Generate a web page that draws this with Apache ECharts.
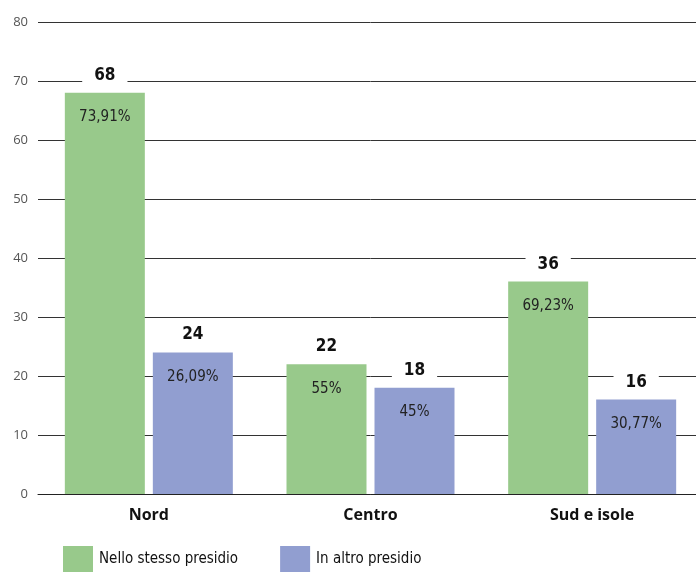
<!DOCTYPE html>
<html><head><meta charset="utf-8">
<script src="https://cdn.jsdelivr.net/npm/echarts@6/dist/echarts.min.js"></script>
<style>html,body{margin:0;padding:0;background:#fff;overflow:hidden}#c{width:703px;height:572px}</style>
</head><body><div id="c"></div>
<script>
const categories = ['Nord', 'Centro', 'Sud e isole'];
const seriesNames = ['Nello stesso presidio', 'In altro presidio'];
const stessoValues = [68, 22, 36];
const altroValues = [24, 18, 16];
const stessoPct = ['73,91%', '55%', '69,23%'];
const altroPct = ['26,09%', '45%', '30,77%'];
const yTicks = [0, 10, 20, 30, 40, 50, 60, 70, 80];

const F = '"DejaVu Sans Condensed", "Liberation Sans Narrow", sans-serif';
const green = '#98c98b', blue = '#919ed0';
const chart = echarts.init(document.getElementById('c'));
const topLabel = {
  show: true, position: 'top', distance: 7,
  fontFamily: F, fontWeight: 'bold', fontSize: 17, color: '#111',
  backgroundColor: '#fff', padding: [2, 12, 2, 12]
};
const pctLabel = (arr) => ({
  show: true, position: 'insideTop', distance: 17,
  fontFamily: F, fontSize: 15, color: '#222',
  formatter: p => arr[p.dataIndex]
});
chart.setOption({
  animation: false,
  grid: { left: 38, top: 22, right: 0, bottom: 78 },
  legend: {
    data: seriesNames, left: 63, top: 546, icon: 'rect', padding: 0,
    itemWidth: 30, itemHeight: 26, itemGap: 42,
    textStyle: { fontFamily: F, fontSize: 15, color: '#111', padding: [0, 0, 0, 1] }
  },
  xAxis: [
    { type: 'category', data: categories, axisTick: { show: false },
      axisLine: { lineStyle: { color: '#222' } },
      axisLabel: { fontFamily: '"Open Sans", sans-serif', fontWeight: 'bold', fontSize: 16, color: '#111', margin: 13 } },
    { type: 'category', data: categories, show: false }
  ],
  yAxis: {
    type: 'value', min: yTicks[0], max: yTicks[yTicks.length - 1], interval: 10,
    axisLine: { show: false }, axisTick: { show: false },
    axisLabel: { fontFamily: '"Open Sans", sans-serif', fontSize: 13, color: '#555', margin: 10 },
    splitLine: { lineStyle: { color: '#333', width: 1 } }
  },
  series: [
    { name: seriesNames[0], type: 'bar', data: stessoValues, barWidth: 80, barGap: '10%',
      itemStyle: { color: green }, label: topLabel, z: 3 },
    { name: seriesNames[1], type: 'bar', data: altroValues, barWidth: 80, barGap: '10%',
      itemStyle: { color: blue }, label: topLabel, z: 3 },
    { name: 'p1', type: 'bar', xAxisIndex: 1, data: stessoValues, barWidth: 80, barGap: '10%',
      itemStyle: { color: 'rgba(0,0,0,0)' }, label: pctLabel(stessoPct), z: 4, silent: true },
    { name: 'p2', type: 'bar', xAxisIndex: 1, data: altroValues, barWidth: 80, barGap: '10%',
      itemStyle: { color: 'rgba(0,0,0,0)' }, label: pctLabel(altroPct), z: 4, silent: true }
  ]
});
</script></body></html>
